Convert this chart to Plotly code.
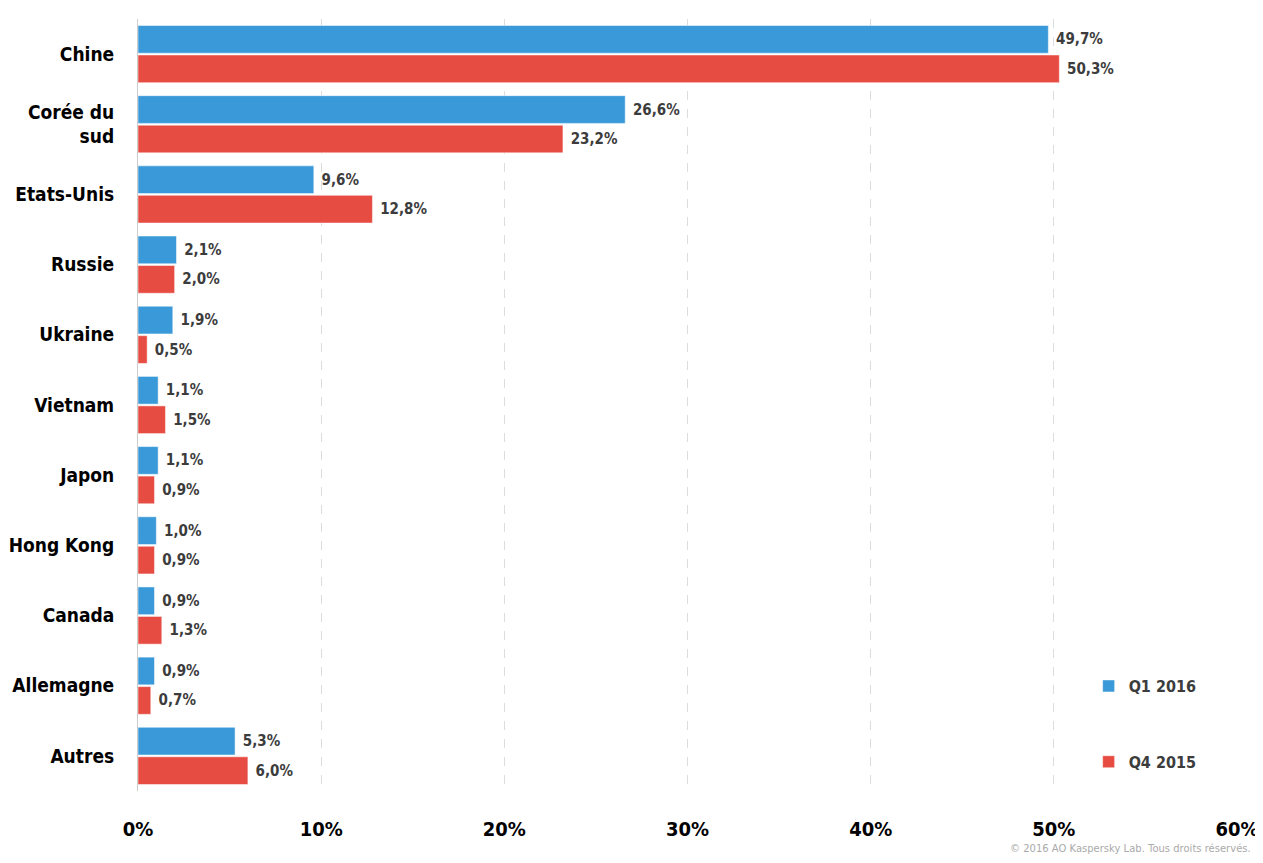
import plotly.graph_objects as go

# pays d'origine des attaques
pays = ['Chine', 'Corée du<br>sud', 'Etats-Unis', 'Russie', 'Ukraine', 'Vietnam',
        'Japon', 'Hong Kong', 'Canada', 'Allemagne', 'Autres']
q1_2016 = [49.7, 26.6, 9.6, 2.1, 1.9, 1.1, 1.1, 1.0, 0.9, 0.9, 5.3]
q4_2015 = [50.3, 23.2, 12.8, 2.0, 0.5, 1.5, 0.9, 0.9, 1.3, 0.7, 6.0]
x_ticks = [0, 10, 20, 30, 40, 50, 60]
x_labels = ['0%', '10%', '20%', '30%', '40%', '50%', '60%']

FONT = 'DejaVu Sans Condensed, Liberation Sans Narrow, Noto Sans'


def fr(v):
    # format français, virgule décimale
    return '\u00a0' + ('%.1f%%' % v).replace('.', ',')


fig = go.Figure()
fig.add_trace(go.Bar(y=pays, x=q1_2016, name='Q1 2016', orientation='h',
                     marker_color='#3a99d8', text=[fr(v) for v in q1_2016],
                     textposition='outside', legendgroup='a'))
fig.add_trace(go.Bar(y=pays, x=q4_2015, name='Q4 2015', orientation='h',
                     marker_color='#e74c42', text=[fr(v) for v in q4_2015],
                     textposition='outside', legendgroup='b'))

fig.update_traces(textfont=dict(family=FONT, size=15, color='#3c3c3c', weight='bold'),
                  cliponaxis=False, hoverinfo='skip')

# la page ajoute une marge de 8px en haut et a gauche
fig.update_layout(
    width=1255, height=855, template='plotly_white',
    paper_bgcolor='white', plot_bgcolor='white',
    margin=dict(l=130, r=26, t=11, b=72, autoexpand=False),
    barmode='group', bargap=0.16, bargroupgap=0.06,
    font=dict(family=FONT, color='black'),
    legend=dict(x=0.865, y=0.158, xanchor='left', yanchor='top', tracegroupgap=52,
                font=dict(family=FONT, size=16, color='#3c3c3c', weight='bold'),
                itemwidth=30, bgcolor='rgba(0,0,0,0)'),
    annotations=[dict(text='© 2016 AO Kaspersky Lab. Tous droits réservés.',
                      xref='paper', yref='paper', x=1.015, y=-0.074,
                      xanchor='right', yanchor='middle', showarrow=False,
                      font=dict(family='DejaVu Sans, Noto Sans', size=10, color='#aaaaaa'))],
)

fig.update_xaxes(range=[0, 60], tickvals=x_ticks, ticktext=x_labels, automargin=False,
                 showgrid=True, gridcolor='#dddddd', griddash='dash', gridwidth=1,
                 zeroline=False, showline=False, ticklabelstandoff=24,
                 tickfont=dict(family=FONT, size=20, color='black', weight='bold'))
fig.update_yaxes(autorange='reversed', showgrid=False, zeroline=False, automargin=False,
                 showline=True, linecolor='#cccccc', linewidth=1, ticklabelstandoff=19,
                 tickfont=dict(family=FONT, size=19, color='black', weight='bold'))

fig.write_html('out.html')
